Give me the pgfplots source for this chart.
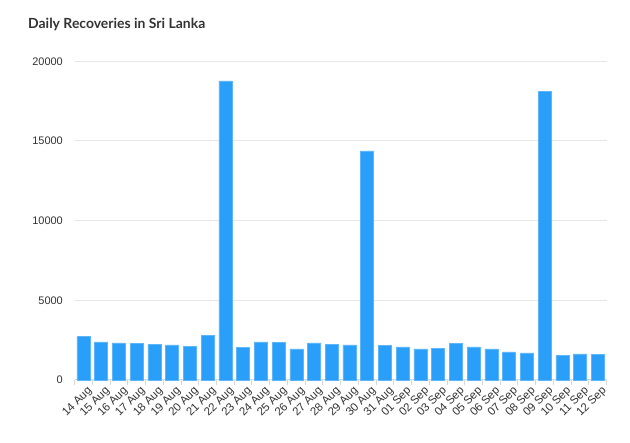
\documentclass[border=0pt]{standalone}
\usepackage{pgfplots}
\pgfplotsset{compat=1.18}
\usepackage{fontspec}
\setmainfont{Liberation Sans}
\newfontfamily\titlefont{Lato}
\definecolor{barc}{HTML}{2A9FF9}
\definecolor{barb}{HTML}{5DB5FA}
\definecolor{gridc}{HTML}{E6E6E6}
\definecolor{axc}{HTML}{D8D8D8}
\definecolor{txt}{HTML}{333333}
\begin{document}
\begin{tikzpicture}[x=1bp,y=1bp]
\path[use as bounding box] (0,0) rectangle (630,443);
\node[anchor=base west, inner sep=0pt, text=txt] at (28,414) {\titlefont\bfseries\fontsize{14}{16}\selectfont Daily Recoveries in Sri Lanka};
\begin{axis}[
  at={(74.6bp,63bp)}, anchor=south west,
  scale only axis, width=532bp, height=318.7bp,
  xmin=-0.5, xmax=29.5, ymin=0, ymax=20000,
  enlargelimits=false,
  axis x line*=bottom,
  axis y line*=left,
  x axis line style={axc, line width=1pt, -},
  y axis line style={draw=none},
  xtick={0,...,29},
  xticklabels={14 Aug,15 Aug,16 Aug,17 Aug,18 Aug,19 Aug,20 Aug,21 Aug,22 Aug,23 Aug,24 Aug,25 Aug,26 Aug,27 Aug,28 Aug,29 Aug,30 Aug,31 Aug,01 Sep,02 Sep,03 Sep,04 Sep,05 Sep,06 Sep,07 Sep,08 Sep,09 Sep,10 Sep,11 Sep,12 Sep},
  major tick style={draw=none},
  minor xtick={-0.5,0.5,...,29.5},
  minor x tick style={axc, line width=1pt},
  minor tick length=5bp,
  tick align=outside,
  xticklabel style={rotate=45, anchor=north east, font=\fontsize{11.5}{12}\selectfont, text=txt, inner sep=1pt, xshift=2.5bp, yshift=-2bp},
  ytick={0,5000,10000,15000,20000},
  ymajorgrids, grid style={gridc, line width=1pt},
  yticklabel style={font=\fontsize{11}{12}\selectfont, text=txt, xshift=-4bp},
  yticklabel={\pgfmathprintnumber[assume math mode=true, set thousands separator={}, fixed]{\tick}},
  scaled y ticks=false,
  clip=false,
]
\addplot[ybar, bar width=13bp, fill=barc, draw=barb, line width=0.5pt] coordinates {
(0,2720) (1,2390) (2,2330) (3,2285) (4,2220) (5,2200) (6,2100) (7,2790)
(8,18770) (9,2035) (10,2390) (11,2370) (12,1950) (13,2330) (14,2220) (15,2200)
(16,14375) (17,2180) (18,2075) (19,1950) (20,1990) (21,2305) (22,2075) (23,1950)
(24,1760) (25,1700) (26,18120) (27,1530) (28,1635) (29,1595)
};
\end{axis}
\end{tikzpicture}
\end{document}
